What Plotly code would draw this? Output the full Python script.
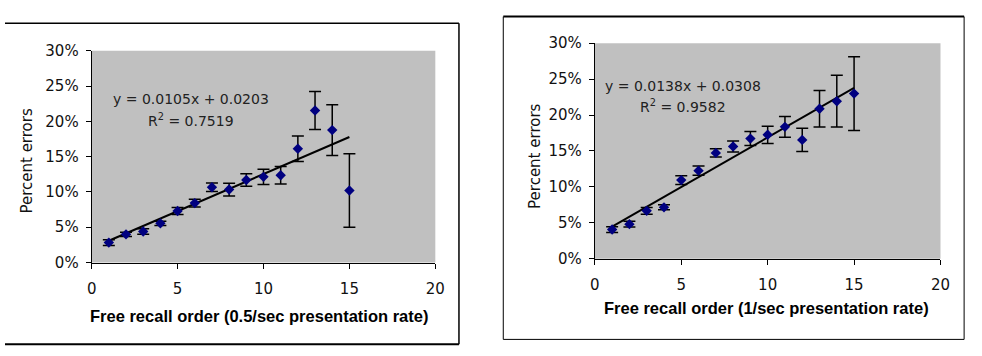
import plotly.graph_objects as go

W, H = 982, 356

# ---- data ----
order = list(range(1, 16))
err_slow = [0.0282, 0.0399, 0.0439, 0.0555, 0.0730, 0.0842, 0.1066, 0.1034, 0.1169, 0.1214,
            0.1236, 0.1612, 0.2154, 0.1876, 0.1021]
sd_slow = [0.004, 0.003, 0.004, 0.003, 0.005, 0.0055, 0.006, 0.009, 0.009, 0.0107,
           0.0125, 0.018, 0.027, 0.036, 0.052]
err_fast = [0.0406, 0.0481, 0.0666, 0.0715, 0.1094, 0.1226, 0.1473, 0.1562, 0.1672, 0.1725,
            0.1835, 0.1654, 0.2087, 0.2192, 0.2298]
sd_fast = [0.004, 0.004, 0.0046, 0.0035, 0.006, 0.0066, 0.0057, 0.0075, 0.0097, 0.012,
           0.0143, 0.0163, 0.0254, 0.036, 0.0514]
fit_slow = (0.0105, 0.0203, 0.7519)
fit_fast = (0.0138, 0.0308, 0.9582)
x_titles = ["Free recall order (0.5/sec presentation rate)",
            "Free recall order (1/sec presentation rate)"]
y_title = "Percent errors"

FONT = "DejaVu Sans, Verdana, sans-serif"
BOLD = "Liberation Sans, Arial, sans-serif"

fig = go.Figure()

# plot area pixel boxes: (left, right, top, bottom)
boxes = [(88, 437, 44, 267), (599, 950, 36, 263)]
datasets = [(err_slow, sd_slow, fit_slow), (err_fast, sd_fast, fit_fast)]

for i, ((l, r, t, b), (ys, sds, fit)) in enumerate(zip(boxes, datasets)):
    sfx = "" if i == 0 else "2"
    xa, ya = "x" + sfx, "y" + sfx
    slope, icpt, r2 = fit
    xs_fit = [order[0], order[-1]]
    fig.add_trace(go.Scatter(
        x=xs_fit, y=[slope * v + icpt for v in xs_fit], mode="lines",
        line=dict(color="black", width=2), xaxis=xa, yaxis=ya, showlegend=False,
        hoverinfo="skip"))
    fig.add_trace(go.Scatter(
        x=order, y=ys, mode="markers",
        marker=dict(symbol="diamond", size=8, color="#000080"),
        error_y=dict(type="data", array=sds, visible=True, color="black",
                     thickness=1.5, width=6),
        xaxis=xa, yaxis=ya, showlegend=False))
    axis_common = dict(showgrid=False, zeroline=False, showline=True, linecolor="black",
                       linewidth=1, ticks="outside", ticklen=5, tickcolor="black",
                       tickfont=dict(family=FONT, size=15, color="#111"))
    fig.layout["xaxis" + sfx] = dict(
        domain=[l / W, r / W], range=[0, 20], tick0=0, dtick=5, anchor=ya,
        ticklabelstandoff=7, **axis_common)
    fig.layout["yaxis" + sfx] = dict(
        domain=[1 - b / H, 1 - t / H], range=[0, 0.30], tick0=0, dtick=0.05,
        tickformat=".0%", anchor=xa, ticklabelstandoff=4, **axis_common)
    # plot background
    fig.add_shape(type="rect", xref="paper", yref="paper", x0=l / W, x1=r / W,
                  y0=1 - b / H, y1=1 - t / H, fillcolor="#C0C0C0",
                  line=dict(width=0), layer="below")

def note(x, y, text, size, family, color="#111", angle=0):
    fig.add_annotation(x=x / W, y=1 - y / H, xref="paper", yref="paper",
                       xanchor="center", yanchor="middle", text=text,
                       showarrow=False, textangle=angle,
                       font=dict(family=family, size=size, color=color))

# equation annotations
eq_pos = [(189, 95, 117), (689, 81, 102)]
for (cx, y1, y2), (slope, icpt, r2) in zip(eq_pos, [fit_slow, fit_fast]):
    note(cx, y1, f"y = {slope:.4f}x + {icpt:.4f}", 14, FONT, "#222")
    note(cx, y2, f"R<sup>2</sup> = {r2:.4f}", 14, FONT, "#222")

# axis titles
xt_pos = [(258, 323), (773, 315)]
yt_pos = [(22, 160), (538, 155)]
for (xx, yy), txt in zip(xt_pos, x_titles):
    note(xx, yy, f"<b>{txt}</b>", 16.5, BOLD, "black")
for (xx, yy) in yt_pos:
    note(xx, yy, y_title, 15, FONT, "#111", -90)

# chart frames
def line(x0, y0, x1, y1, w=1.5):
    fig.add_shape(type="line", xref="paper", yref="paper",
                  x0=x0 / W, y0=1 - y0 / H, x1=x1 / W, y1=1 - y1 / H,
                  line=dict(color="black", width=w))

line(0, 15, 461, 15)
line(461, 15, 461, 353)
line(0, 353, 461, 353, 2)
line(506, 8, 974, 8, 2)
line(974, 8, 974, 348, 1)
line(506, 348, 974, 348, 1)
line(506, 8, 506, 348, 1)

fig.update_layout(width=W, height=H, margin=dict(l=0, r=0, t=0, b=0),
                  paper_bgcolor="white", plot_bgcolor="rgba(0,0,0,0)",
                  font=dict(family=FONT))

fig.write_html("out.html")
